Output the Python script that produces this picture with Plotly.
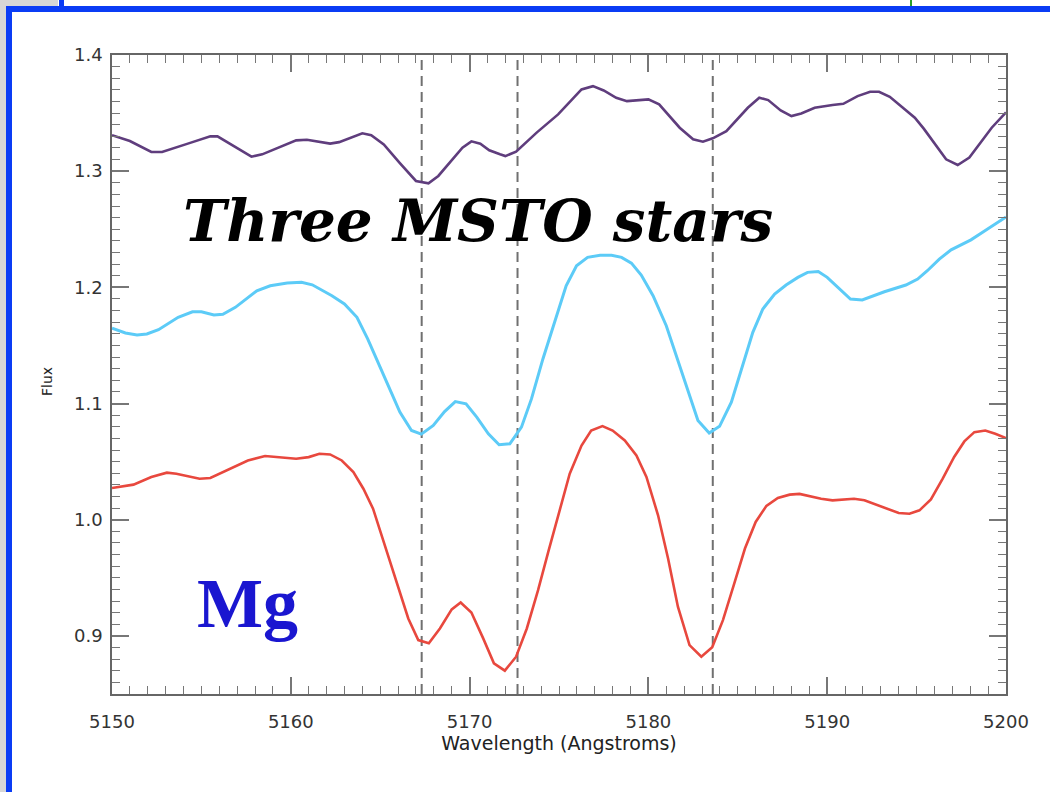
import plotly.graph_objects as go

# Spectra of three main-sequence turn-off stars around the Mg b triplet
wave_top = [5150.0, 5151.0, 5152.2, 5152.8, 5154.2, 5155.5, 5155.9, 5157.8, 5158.4, 5160.3,
            5160.9, 5162.2, 5162.7, 5164.0, 5164.5, 5165.2, 5166.1, 5167.0, 5167.7, 5168.25,
            5169.6, 5170.1, 5170.6, 5171.1, 5171.7, 5172.0, 5172.6, 5173.75, 5174.95, 5176.26,
            5176.9, 5177.5, 5178.2, 5178.8, 5180.0, 5180.6, 5181.75, 5182.5, 5183.05, 5183.6,
            5184.36, 5185.56, 5186.2, 5186.7, 5187.4, 5188.0, 5188.55, 5189.3, 5190.3, 5190.9,
            5191.7, 5192.4, 5192.9, 5193.5, 5194.9, 5195.4, 5196.65, 5197.3, 5197.95, 5199.2,
            5200.0]
flux_top = [1.331, 1.326, 1.3165, 1.3165, 1.3235, 1.330, 1.330, 1.3125, 1.3145, 1.3265,
            1.327, 1.3237, 1.325, 1.3326, 1.331, 1.323, 1.307, 1.2916, 1.2896, 1.2959,
            1.3203, 1.3257, 1.3237, 1.318, 1.3145, 1.313, 1.3168, 1.3332, 1.3489, 1.3704,
            1.3732, 1.3695, 1.3632, 1.3603, 1.3618, 1.3575, 1.3374, 1.3274, 1.3254, 1.3283,
            1.3345, 1.3546, 1.3632, 1.3612, 1.3523, 1.3474, 1.3497, 1.3546, 1.3569, 1.358,
            1.3646, 1.3684, 1.3684, 1.364, 1.346, 1.3366, 1.3102, 1.3053, 1.3117, 1.3374,
            1.3506]

wave_mid = [5150.0, 5150.75, 5151.4, 5151.95, 5152.6, 5153.7, 5154.5, 5155.0, 5155.7, 5156.2,
            5156.9, 5158.1, 5158.85, 5159.8, 5160.6, 5161.2, 5162.3, 5163.0, 5163.7, 5164.3,
            5165.45, 5166.1, 5166.75, 5167.3, 5167.97, 5168.6, 5169.2, 5169.8, 5170.4, 5171.05,
            5171.65, 5172.25, 5172.9, 5173.46, 5174.1, 5174.8, 5175.4, 5175.98, 5176.6, 5177.3,
            5177.94, 5178.5, 5179.05, 5179.6, 5180.26, 5181.0, 5181.56, 5182.2, 5182.77, 5183.4,
            5183.98, 5184.64, 5185.2, 5185.84, 5186.4, 5187.06, 5187.7, 5188.36, 5188.9, 5189.5,
            5190.0, 5190.7, 5191.3, 5191.96, 5192.55, 5193.2, 5194.4, 5195.06, 5195.6, 5196.27,
            5196.93, 5198.04, 5198.8, 5199.44, 5200.0]
flux_mid = [1.1648, 1.1607, 1.159, 1.1599, 1.1636, 1.1742, 1.179, 1.179, 1.1762, 1.1768,
            1.1828, 1.1971, 1.2014, 1.2037, 1.2043, 1.2022, 1.1928, 1.1857, 1.1742, 1.1556,
            1.1155, 1.0926, 1.0768, 1.0737, 1.0811, 1.0931, 1.1017, 1.0997, 1.0883, 1.074,
            1.0645, 1.0654, 1.0797, 1.104, 1.1384, 1.1728, 1.2014, 1.2186, 1.2258, 1.2277,
            1.2277, 1.2258, 1.2209, 1.2106, 1.1928, 1.167, 1.1412, 1.1098, 1.0854, 1.0747,
            1.0804, 1.1012, 1.1298, 1.1613, 1.1814, 1.1942, 1.202, 1.2086, 1.2129, 1.2137,
            1.2086, 1.1985, 1.19, 1.1891, 1.1923, 1.1962, 1.202, 1.2071, 1.2143, 1.2243,
            1.2323, 1.2409, 1.2486, 1.2552, 1.2605]

wave_low = [5150.0, 5151.2, 5152.2, 5153.07, 5153.6, 5154.9, 5155.5, 5156.5, 5157.6, 5158.56,
            5159.4, 5160.3, 5161.0, 5161.6, 5162.2, 5162.85, 5163.5, 5164.06, 5164.6, 5165.27,
            5165.9, 5166.57, 5167.13, 5167.72, 5168.34, 5169.0, 5169.5, 5170.1, 5170.76, 5171.36,
            5171.97, 5172.6, 5173.2, 5173.83, 5174.4, 5175.04, 5175.6, 5176.26, 5176.8, 5177.43,
            5178.0, 5178.68, 5179.33, 5179.89, 5180.54, 5181.1, 5181.65, 5182.3, 5182.96, 5183.57,
            5184.17, 5184.8, 5185.4, 5186.0, 5186.6, 5187.24, 5187.9, 5188.45, 5189.0, 5189.66,
            5190.3, 5191.5, 5192.08, 5192.7, 5193.4, 5194.0, 5194.6, 5195.16, 5195.8, 5196.46,
            5197.1, 5197.67, 5198.23, 5198.84, 5199.4, 5200.0]
flux_low = [1.0273, 1.0302, 1.0368, 1.0405, 1.0396, 1.0353, 1.0359, 1.0433, 1.051, 1.0548,
            1.0539, 1.0525, 1.0539, 1.0568, 1.0562, 1.051, 1.0411, 1.0267, 1.0095, 0.978,
            0.9466, 0.915, 0.8964, 0.8936, 0.9064, 0.9228, 0.9288, 0.9202, 0.8979, 0.8764,
            0.8701, 0.8821, 0.9064, 0.9394, 0.9723, 1.0095, 1.0396, 1.0639, 1.0768, 1.0806,
            1.0768, 1.0682, 1.0553, 1.0368, 1.0038, 0.9666, 0.9251, 0.8921, 0.8821, 0.8903,
            0.9136, 0.9451, 0.9752, 0.9981, 1.0119, 1.0187, 1.0216, 1.0222, 1.0204, 1.0181,
            1.0167, 1.0181, 1.0167, 1.013, 1.0089, 1.0058, 1.0052, 1.0081, 1.0175, 1.0353,
            1.054, 1.0674, 1.0754, 1.0768, 1.074, 1.0703]

# Mg b triplet rest wavelengths
mg_lines = [5167.32, 5172.68, 5183.60]

x_range = [5150, 5200]
y_range = [0.85, 1.4]
y_ticks = [0.9, 1.0, 1.1, 1.2, 1.3, 1.4]
x_ticks = [5150, 5160, 5170, 5180, 5190, 5200]

W, H = 1050, 792
L, R, T, B = 112, 44, 55, 98


def px(x):
    return (x - L) / (W - L - R)


def py(y):
    return (H - B - y) / (H - T - B)


fig = go.Figure()

for w in mg_lines:
    fig.add_trace(go.Scatter(x=[w, w], y=y_range, mode="lines",
                             line=dict(color="#707070", width=2, dash="10px,6px"),
                             hoverinfo="skip"))

fig.add_trace(go.Scatter(x=wave_top, y=flux_top, mode="lines",
                         line=dict(color="#5f3d7d", width=2.6)))
fig.add_trace(go.Scatter(x=wave_mid, y=flux_mid, mode="lines",
                         line=dict(color="#5ccbf7", width=3)))
fig.add_trace(go.Scatter(x=wave_low, y=flux_low, mode="lines",
                         line=dict(color="#e8483e", width=2.6)))

# invisible trace so the top/right tick axes are drawn
fig.add_trace(go.Scatter(x=x_range, y=y_range, mode="lines", xaxis="x2", yaxis="y2",
                         line=dict(width=0), opacity=0, hoverinfo="skip"))

axis_font = dict(family="DejaVu Sans", size=18, color="#333333")
tick_col = "#777777"
common = dict(ticks="inside", ticklen=17, tickwidth=1.5, tickcolor=tick_col,
              showgrid=False, zeroline=False)

x_minor = dict(dtick=1, ticks="inside", ticklen=8, tickwidth=1.3, tickcolor=tick_col,
               showgrid=False)
y_minor = dict(dtick=0.01, ticks="inside", ticklen=8, tickwidth=1.3, tickcolor=tick_col,
               showgrid=False)

fig.update_layout(
    xaxis=dict(range=x_range, tickvals=x_ticks, showline=True, linecolor="#666666",
               linewidth=1.5, mirror=True, tickfont=axis_font, ticklabelstandoff=11,
               minor=x_minor,
               title=dict(text="Wavelength (Angstroms)",
                          font=dict(family="DejaVu Sans", size=19, color="#222222"),
                          standoff=5),
               **common),
    yaxis=dict(range=y_range, tickvals=y_ticks, tickformat=".1f", showline=True,
               linecolor="#666666", linewidth=1.5, mirror=True, tickfont=axis_font,
               ticklabelstandoff=4, minor=y_minor, **common),
    xaxis2=dict(range=x_range, tickvals=x_ticks, overlaying="x", side="top",
                showticklabels=False, minor=x_minor, **common),
    yaxis2=dict(range=y_range, tickvals=y_ticks, overlaying="y", side="right",
                showticklabels=False, minor=y_minor, **common),
)

shapes = [
    # slide frame
    dict(type="rect", xref="paper", yref="paper", x0=px(0), x1=px(6), y0=py(792), y1=py(0),
         fillcolor="#d6d6d6", line=dict(width=0), layer="below"),
    dict(type="rect", xref="paper", yref="paper", x0=px(0), x1=px(58), y0=py(6), y1=py(0),
         fillcolor="#d6d6d6", line=dict(width=0), layer="below"),
    dict(type="rect", xref="paper", yref="paper", x0=px(59), x1=px(64), y0=py(6), y1=py(0),
         fillcolor="#0a3cf5", line=dict(width=0), layer="below"),
    dict(type="rect", xref="paper", yref="paper", x0=px(910), x1=px(912), y0=py(6), y1=py(0),
         fillcolor="#2aa02a", line=dict(width=0), layer="below"),
    dict(type="rect", xref="paper", yref="paper", x0=px(6), x1=px(1050), y0=py(12), y1=py(6),
         fillcolor="#0a3cf5", line=dict(width=0)),
    dict(type="rect", xref="paper", yref="paper", x0=px(6), x1=px(12), y0=py(792), y1=py(6),
         fillcolor="#0a3cf5", line=dict(width=0)),
]

annotations = [
    dict(text="Flux", xref="paper", yref="paper", x=px(47), y=py(382),
         xanchor="center", yanchor="middle", textangle=-90, showarrow=False,
         font=dict(family="DejaVu Sans", size=14, color="#222222")),
    dict(text="<b><i>Three MSTO stars</i></b>", xref="paper", yref="paper",
         x=px(478), y=py(221), xanchor="center", yanchor="middle", showarrow=False,
         font=dict(family="DejaVu Serif", size=58, color="#000000")),
    dict(text="<b>Mg</b>", xref="paper", yref="paper",
         x=px(247), y=py(603), xanchor="center", yanchor="middle", showarrow=False,
         font=dict(family="Liberation Serif", size=70, color="#1a16d0")),
]

fig.update_layout(width=W, height=H, margin=dict(l=L, r=R, t=T, b=B),
                  paper_bgcolor="white", plot_bgcolor="white", showlegend=False,
                  shapes=shapes, annotations=annotations)

fig.write_html("out.html")
